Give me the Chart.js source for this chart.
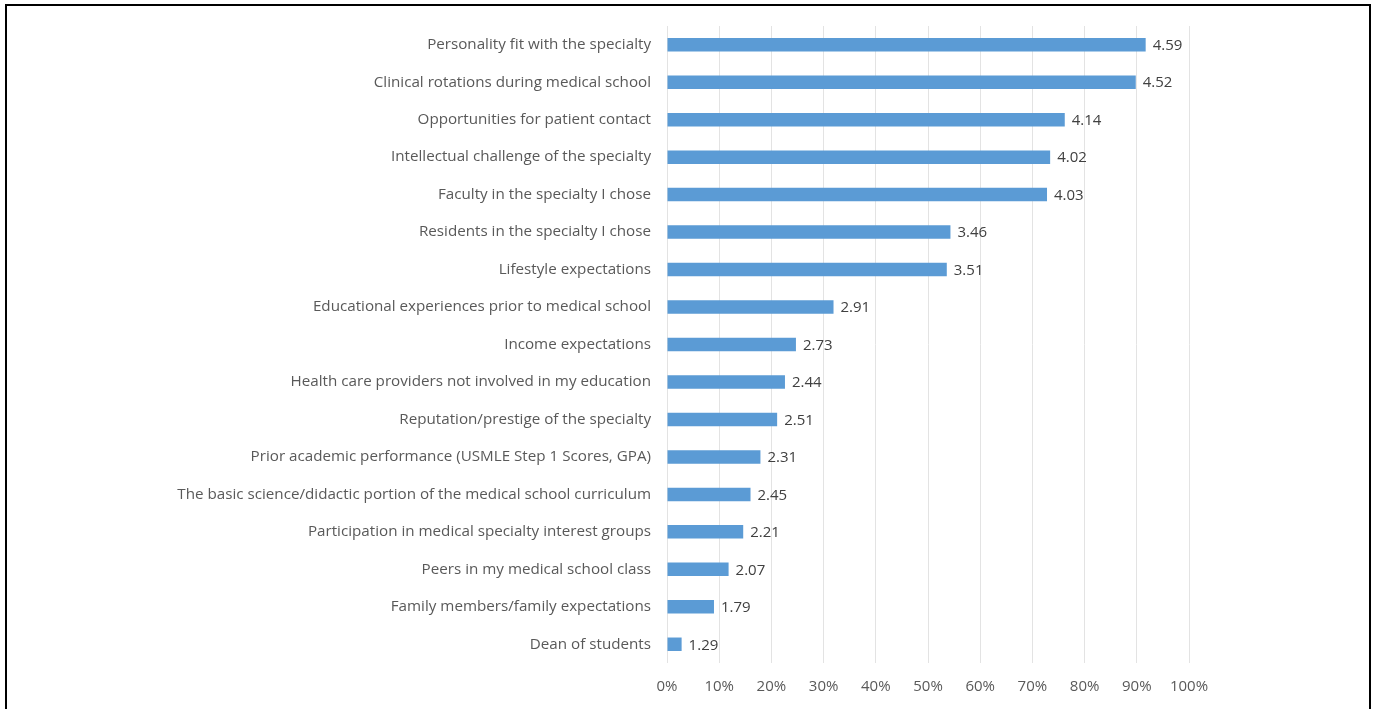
<!DOCTYPE html>
<html>
<head>
<meta charset="utf-8">
<script src="https://cdn.jsdelivr.net/npm/chart.js@4"></script>
<style>
  html, body { margin: 0; padding: 0; background: #fff; overflow: hidden; }
  #frame { position: absolute; left: 5px; top: 4px; width: 1366px; height: 720px; border: 2px solid #000; box-sizing: border-box; }
  #wrap { position: absolute; left: 0; top: 0; width: 1378px; height: 709px; }
</style>
</head>
<body>
<div id="frame"></div>
<div id="wrap"><canvas id="c"></canvas></div>
<script>
const categories = [
  "Personality fit with the specialty",
  "Clinical rotations during medical school",
  "Opportunities for patient contact",
  "Intellectual challenge of the specialty",
  "Faculty in the specialty I chose",
  "Residents in the specialty I chose",
  "Lifestyle expectations",
  "Educational experiences prior to medical school",
  "Income expectations",
  "Health care providers not involved in my education",
  "Reputation/prestige of the specialty",
  "Prior academic performance (USMLE Step 1 Scores, GPA)",
  "The basic science/didactic portion of the medical school curriculum",
  "Participation in medical specialty interest groups",
  "Peers in my medical school class",
  "Family members/family expectations",
  "Dean of students"
];
const percentValues = [91.7, 89.8, 76.2, 73.4, 72.8, 54.3, 53.6, 31.9, 24.7, 22.6, 21.1, 17.9, 16.0, 14.6, 11.8, 9.0, 2.8];
const meanScores = ["4.59", "4.52", "4.14", "4.02", "4.03", "3.46", "3.51", "2.91", "2.73", "2.44", "2.51", "2.31", "2.45", "2.21", "2.07", "1.79", "1.29"];
const xTicks = [0, 10, 20, 30, 40, 50, 60, 70, 80, 90, 100];

const FONT = '"Open Sans", Lato, sans-serif';

const valueLabels = {
  id: 'valueLabels',
  afterDatasetsDraw(chart) {
    const ctx = chart.ctx;
    const meta = chart.getDatasetMeta(0);
    ctx.save();
    ctx.font = '15px ' + FONT;
    ctx.fillStyle = '#404040';
    ctx.textAlign = 'left';
    ctx.textBaseline = 'middle';
    meta.data.forEach((bar, i) => {
      ctx.fillText(meanScores[i], bar.x + 7, bar.y + 1);
    });
    ctx.restore();
  }
};

new Chart(document.getElementById('c'), {
  type: 'bar',
  data: {
    labels: categories,
    datasets: [{
      data: percentValues,
      backgroundColor: '#5B9BD5',
      borderWidth: 0,
      barPercentage: 0.36,
      categoryPercentage: 1.0
    }]
  },
  options: {
    indexAxis: 'y',
    responsive: true,
    maintainAspectRatio: false,
    animation: false,
    layout: { padding: { left: 0, right: 189, top: 26, bottom: 0 } },
    plugins: { legend: { display: false }, tooltip: { enabled: false } },
    scales: {
      x: {
        min: 0, max: 100,
        afterBuildTicks(scale) { scale.ticks = xTicks.map(v => ({ value: v })); },
        afterFit(scale) { scale.height = 46; },
        grid: { color: '#E3E3E3', drawTicks: false },
        border: { display: false },
        ticks: {
          padding: 15,
          color: '#595959',
          font: { family: FONT, size: 15 },
          callback: v => v + '%'
        }
      },
      y: {
        afterFit(scale) { scale.width = 667; },
        grid: { display: false, drawTicks: false },
        border: { display: false },
        ticks: {
          padding: 16,
          color: '#595959',
          font: { family: FONT, size: 15.2 },
          autoSkip: false
        }
      }
    }
  },
  plugins: [valueLabels]
});
</script>
</body>
</html>
